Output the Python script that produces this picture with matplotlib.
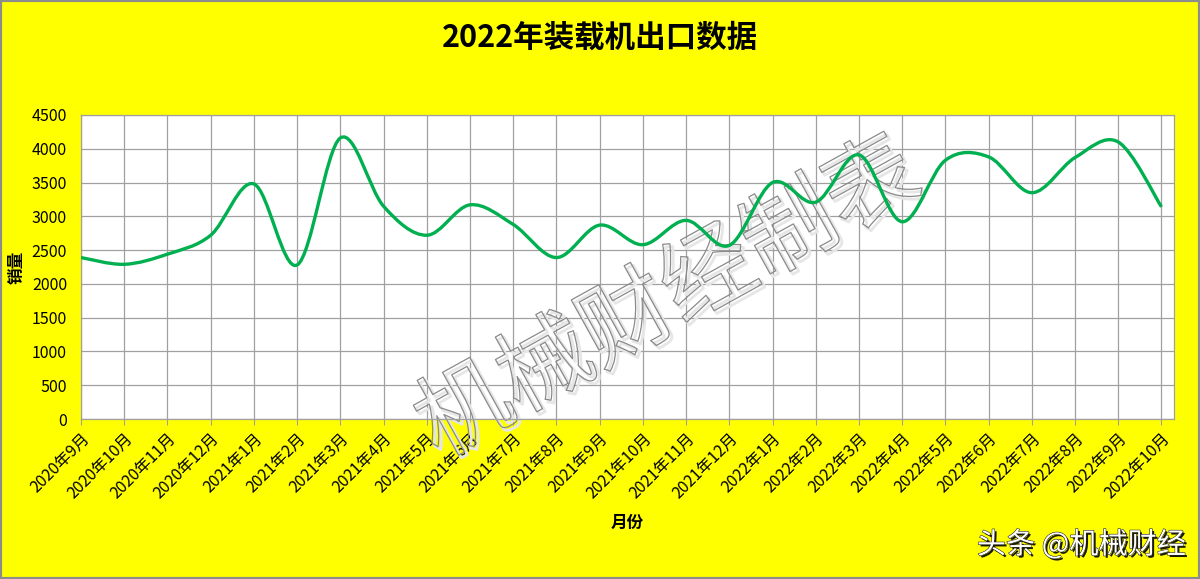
import numpy as np
import matplotlib
matplotlib.use("Agg")
import matplotlib.pyplot as plt
from matplotlib.path import Path
from matplotlib.patches import PathPatch, Rectangle
import matplotlib.patheffects as pe

plt.rcParams['font.family'] = ['Noto Sans CJK SC', 'DejaVu Sans']

months = ["2020年9月", "2020年10月", "2020年11月", "2020年12月",
          "2021年1月", "2021年2月", "2021年3月", "2021年4月", "2021年5月",
          "2021年6月", "2021年7月", "2021年8月", "2021年9月", "2021年10月",
          "2021年11月", "2021年12月", "2022年1月", "2022年2月", "2022年3月",
          "2022年4月", "2022年5月", "2022年6月", "2022年7月", "2022年8月",
          "2022年9月", "2022年10月"]
sales = [2390, 2290, 2440, 2720, 3480, 2280, 4160, 3150, 2720, 3170,
         2880, 2390, 2870, 2580, 2940, 2570, 3500, 3210, 3910, 2920,
         3830, 3880, 3350, 3870, 4100, 3140]

title = "2022年装载机出口数据"
y_ticks = [0, 500, 1000, 1500, 2000, 2500, 3000, 3500, 4000, 4500]

fig = plt.figure(figsize=(12, 5.79), dpi=100, facecolor="#FFFF00")
ax = fig.add_axes([0.0675, 0.2763, 0.9105, 0.5251])
ax.set_facecolor("white")

# smoothed line (Excel style bezier through the data points)
x = np.arange(len(sales), dtype=float)
y = np.array(sales, dtype=float)
pts = np.column_stack([x, y])
ext = np.vstack([pts[0], pts, pts[-1]])
verts = [pts[0]]
codes = [Path.MOVETO]
for i in range(len(pts) - 1):
    p0, p1, p2, p3 = ext[i], ext[i + 1], ext[i + 2], ext[i + 3]
    c1 = p1 + (p2 - p0) / 6.0
    c2 = p2 - (p3 - p1) / 6.0
    verts += [c1, c2, p2]
    codes += [Path.CURVE4] * 3
ax.add_patch(PathPatch(Path(verts, codes), facecolor="none",
                       edgecolor="#00B050", lw=2.4, zorder=3))

ax.set_xlim(0, len(sales) - 1 + 0.28)
ax.set_ylim(0, 4500)
ax.set_yticks(y_ticks)
ax.set_xticks(x)
ax.set_xticklabels(months, rotation=45, ha="right", va="top",
                   rotation_mode="anchor", fontsize=11.5)
ax.tick_params(axis="y", length=0, labelsize=11.5, pad=10)
ax.tick_params(axis="x", length=4, color="#a0a0a0", pad=4)
ax.grid(True, color="#a0a0a0", lw=0.9)
ax.set_axisbelow(True)
for s in ax.spines.values():
    s.set_color("#a0a0a0")
    s.set_linewidth(0.9)

ax.set_ylabel("销量", fontsize=12, fontweight="bold", labelpad=4)
fig.text(0.523, 0.097, "月份", fontsize=12, fontweight="bold",
         ha="center", va="center")
fig.text(0.5, 0.935, title, fontsize=22, fontweight="bold",
         ha="center", va="center")

# watermark, under the line
ax.text(0.557, 0.482, "机械财经制表", fontsize=67, rotation=29,
        transform=fig.transFigure, ha="center", va="center",
        color="none", zorder=2.5,
        path_effects=[pe.Stroke(linewidth=2.0, foreground="#e6e6e6", offset=(2, -2)),
                      pe.Stroke(linewidth=0.9, foreground="#8a8a8a")])

fig.text(0.988, 0.058, "头条 @机械财经", fontsize=21,
         ha="right", va="center", color="white",
         path_effects=[pe.withSimplePatchShadow(offset=(1.5, -1.5),
                                                shadow_rgbFace="black", alpha=0.9),
                       pe.Stroke(linewidth=0.8, foreground="#222222"),
                       pe.Normal()])

fig.patches.append(Rectangle((0, 0), 1, 1, transform=fig.transFigure,
                             fill=False, edgecolor="#8c8c8c", lw=3))

fig.savefig("out.png", dpi=100, facecolor=fig.get_facecolor())
